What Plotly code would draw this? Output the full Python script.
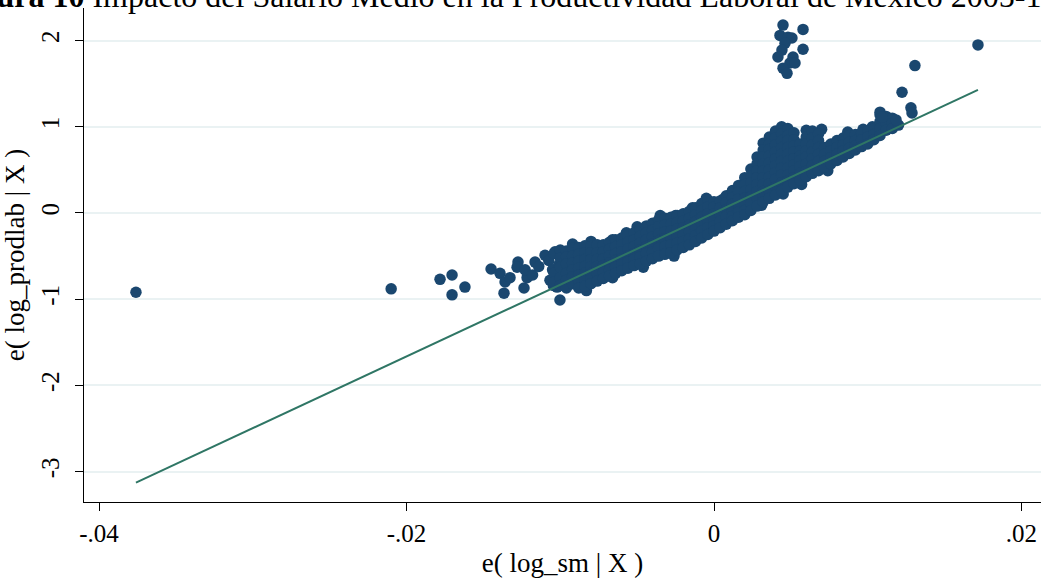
import plotly.graph_objects as go

# ---- data -------------------------------------------------------------
# isolated observations far from the main cloud
out_x = [-0.0376, -0.0210, -0.01782, -0.01704, -0.01704, -0.01620]
out_y = [-0.92, -0.88, -0.77, -0.72, -0.95, -0.86]

# sparse left end of the main cloud
tail_x = [-0.01450, -0.01392, -0.01359, -0.01366, -0.01327, -0.01275, -0.01281,
          -0.01236, -0.01216, -0.01229, -0.01164, -0.01099, -0.01067, -0.01034,
          -0.01021, -0.01021, -0.01002, -0.01140, -0.01180, -0.01075, -0.01050,
          -0.01045, -0.01010]
tail_y = [-0.65, -0.70, -0.80, -0.93, -0.75, -0.57, -0.63,
          -0.87, -0.75, -0.66, -0.57, -0.49, -0.78, -0.45,
          -0.78, -0.86, -1.01, -0.62, -0.72, -0.55, -0.66,
          -0.84, -0.60]

# ragged points along the upper and lower edges of the cloud
edge_x = [-0.0092, -0.0080, -0.0066, -0.0057, -0.0050, -0.0035, -0.0025,
          -0.0014, -0.0005, 0.0006, -0.0083, -0.0066, -0.0046, -0.0026,
          0.0031, 0.0057, 0.0074, 0.0087, 0.0097, 0.0103, 0.0070, 0.0045]
edge_y = [-0.36, -0.33, -0.31, -0.23, -0.16, -0.03, -0.03,
          0.06, 0.17, 0.16, -0.90, -0.75, -0.63, -0.50,
          0.09, 0.33, 0.49, 0.94, 0.97, 1.00, 0.97, 0.22]

# dense body of the cloud, read column by column
col_x = [-0.0104, -0.0100, -0.0096, -0.0092, -0.0088, -0.0084, -0.0080, -0.0076,
         -0.0072, -0.0068, -0.0064, -0.0060, -0.0056, -0.0052, -0.0048, -0.0044,
         -0.0040, -0.0036, -0.0032, -0.0028, -0.0024, -0.0020, -0.0016, -0.0012,
         -0.0008, -0.0004, 0.0000, 0.0004, 0.0008, 0.0012, 0.0016, 0.0020,
         0.0024, 0.0028, 0.0032, 0.0036, 0.0040, 0.0044, 0.0048, 0.0052,
         0.0056, 0.0060, 0.0064, 0.0068, 0.0072, 0.0076, 0.0080, 0.0084,
         0.0088, 0.0092, 0.0096, 0.0100, 0.0104, 0.0108, 0.0112, 0.0116, 0.0120]
col_y = [
    [-0.47, -0.70, -0.80],
    [-0.43, -0.52, -0.63, -0.75, -0.84],
    [-0.44, -0.51, -0.59, -0.70, -0.78, -0.87],
    [-0.41, -0.50, -0.58, -0.66, -0.74, -0.82],
    [-0.40, -0.48, -0.56, -0.64, -0.72, -0.80, -0.87],
    [-0.38, -0.46, -0.54, -0.62, -0.70, -0.78, -0.85],
    [-0.39, -0.46, -0.54, -0.62, -0.70, -0.77, -0.82],
    [-0.37, -0.46, -0.54, -0.62, -0.70, -0.79],
    [-0.37, -0.45, -0.53, -0.61, -0.69, -0.76],
    [-0.34, -0.42, -0.50, -0.58, -0.66, -0.73],
    [-0.31, -0.39, -0.47, -0.55, -0.63, -0.70],
    [-0.29, -0.37, -0.45, -0.53, -0.60, -0.67],
    [-0.26, -0.34, -0.42, -0.50, -0.57, -0.64],
    [-0.23, -0.31, -0.39, -0.47, -0.54, -0.61],
    [-0.19, -0.27, -0.35, -0.43, -0.51, -0.59],
    [-0.15, -0.23, -0.31, -0.39, -0.47, -0.56],
    [-0.12, -0.20, -0.28, -0.36, -0.45, -0.53],
    [-0.08, -0.16, -0.24, -0.32, -0.41, -0.50],
    [-0.06, -0.14, -0.22, -0.30, -0.39, -0.48],
    [-0.05, -0.13, -0.21, -0.29, -0.37, -0.46],
    [-0.03, -0.11, -0.19, -0.27, -0.35, -0.43],
    [-0.01, -0.09, -0.17, -0.25, -0.33, -0.40],
    [0.02, -0.06, -0.14, -0.22, -0.30, -0.37],
    [0.06, -0.02, -0.10, -0.18, -0.26, -0.33],
    [0.11, 0.03, -0.05, -0.13, -0.21, -0.29],
    [0.15, 0.07, -0.01, -0.09, -0.17, -0.25],
    [0.13, 0.07, -0.01, -0.09, -0.15, -0.21],
    [0.14, 0.06, -0.02, -0.10, -0.17],
    [0.20, 0.12, 0.04, -0.04, -0.13],
    [0.26, 0.18, 0.10, 0.02, -0.04, -0.09],
    [0.32, 0.24, 0.16, 0.08, 0.01, -0.05],
    [0.41, 0.33, 0.25, 0.17, 0.09, 0.03, -0.02],
    [0.51, 0.43, 0.35, 0.27, 0.19, 0.11, 0.03],
    [0.65, 0.57, 0.49, 0.41, 0.33, 0.25, 0.17, 0.08],
    [0.81, 0.73, 0.65, 0.57, 0.49, 0.41, 0.33, 0.25, 0.19, 0.13],
    [0.88, 0.80, 0.74, 0.66, 0.58, 0.50, 0.42, 0.34, 0.26, 0.17],
    [0.95, 0.87, 0.79, 0.71, 0.63, 0.55, 0.47, 0.39, 0.30, 0.21],
    [1.00, 0.92, 0.84, 0.76, 0.68, 0.60, 0.52, 0.44, 0.35, 0.26],
    [0.98, 0.90, 0.84, 0.76, 0.68, 0.60, 0.52, 0.44, 0.37, 0.30],
    [0.93, 0.85, 0.78, 0.71, 0.63, 0.56, 0.49, 0.41, 0.34],
    [0.80, 0.72, 0.66, 0.61, 0.54, 0.46, 0.38],
    [0.96, 0.88, 0.80, 0.72, 0.65, 0.57, 0.49, 0.42],
    [0.95, 0.87, 0.79, 0.71, 0.63, 0.55, 0.46],
    [0.92, 0.84, 0.76, 0.68, 0.60, 0.49],
    [0.76, 0.68, 0.60, 0.53],
    [0.80, 0.72, 0.64, 0.57],
    [0.84, 0.76, 0.68, 0.61],
    [0.87, 0.79, 0.72, 0.65],
    [0.90, 0.82, 0.75, 0.69],
    [0.91, 0.84, 0.78, 0.73],
    [0.93, 0.85, 0.77],
    [0.95, 0.88, 0.80],
    [0.98, 0.91, 0.85],
    [1.14, 1.06, 0.98, 0.90],
    [1.12, 1.04, 0.96],
    [1.10, 1.04, 0.98],
    [1.02],
]

# high group above the cloud and points at the right end
top_x = [0.00449, 0.00579, 0.00429, 0.00481, 0.00507, 0.00462, 0.00442, 0.00579,
         0.00416, 0.00514, 0.00494, 0.00527, 0.00449, 0.00475]
top_y = [2.18, 2.13, 2.06, 2.04, 2.03, 1.97, 1.89, 1.90,
         1.81, 1.81, 1.74, 1.74, 1.68, 1.62]
right_x = [0.01717, 0.01307, 0.01223, 0.01281, 0.01288, 0.01184, 0.01080, 0.01093]
right_y = [1.95, 1.71, 1.40, 1.22, 1.16, 1.08, 1.17, 1.11]

# fitted line of the added-variable plot
fit_slope = 83.2
fit_intercept = 0.0

x_ticks = [-0.04, -0.02, 0.0, 0.02]
x_labels = ["-.04", "-.02", "0", ".02"]
y_ticks = [-3, -2, -1, 0, 1, 2]
y_labels = ["-3", "-2", "-1", "0", "1", "2"]

# ---- assemble ---------------------------------------------------------
pts_x, pts_y = [], []
for cx, ys in zip(col_x, col_y):
    for v in ys:
        pts_x.append(cx)
        pts_y.append(v)
all_x = out_x + tail_x + edge_x + pts_x + top_x + right_x
all_y = out_y + tail_y + edge_y + pts_y + top_y + right_y

x_lo, x_hi = min(all_x), max(all_x)
line_x = [x_lo, x_hi]
line_y = [fit_intercept + fit_slope * v for v in line_x]

NAVY = "#1a476f"
FIT = "#2f7665"
GRID = "#eaf2f3"
SERIF = "Liberation Serif"

fig = go.Figure()
fig.add_trace(go.Scatter(
    x=all_x, y=all_y, mode="markers",
    marker=dict(size=11.5, color=NAVY, line=dict(width=0)),
    hoverinfo="skip",
))
fig.add_trace(go.Scatter(
    x=line_x, y=line_y, mode="lines",
    line=dict(color=FIT, width=2),
    hoverinfo="skip",
))

fig.update_layout(
    width=1041, height=581,
    margin=dict(l=84, r=0, t=8, b=79),
    paper_bgcolor="white", plot_bgcolor="white",
    showlegend=False,
    font=dict(family=SERIF, color="black", size=25),
    xaxis=dict(
        range=[-0.04098, 0.02127],
        tickvals=x_ticks, ticktext=x_labels,
        ticks="outside", ticklen=8, tickwidth=1, tickcolor="black",
        ticklabelstandoff=1,
        showline=True, linecolor="black", linewidth=1,
        showgrid=False, zeroline=False,
        tickfont=dict(size=25),
        title=dict(text="e( log_sm | X )", font=dict(size=27), standoff=7),
    ),
    yaxis=dict(
        range=[-3.353, 2.378],
        tickvals=y_ticks, ticktext=y_labels, tickangle=-90,
        ticks="outside", ticklen=8, tickwidth=1, tickcolor="black",
        ticklabelstandoff=6,
        showline=True, linecolor="black", linewidth=1,
        showgrid=True, gridcolor=GRID, gridwidth=2, zeroline=False,
        tickfont=dict(size=25),
        title=dict(text="e( log_prodlab | X )", font=dict(size=27), standoff=8),
    ),
    annotations=[dict(
        text="<b>Figura 10</b> Impacto del Salario Medio en la Productividad Laboral de México 2005-15",
        xref="paper", yref="paper", x=0, y=1, xanchor="left", yanchor="bottom",
        xshift=-134, yshift=-8, showarrow=False,
        font=dict(family=SERIF, size=32, color="black"),
    )],
)

fig.write_html("out.html")
